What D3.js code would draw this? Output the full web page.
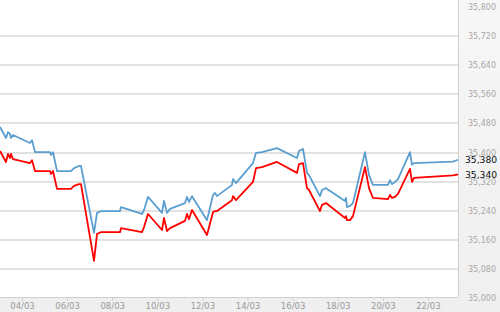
<!DOCTYPE html>
<html>
<head>
<meta charset="utf-8">
<script src="https://cdn.jsdelivr.net/npm/d3@7/dist/d3.min.js"></script>
<style>
html,body{margin:0;padding:0;background:#fff;}
svg{display:block;}
</style>
</head>
<body>
<svg id="chart" width="500" height="312"></svg>
<script>
// day-of-month (March) as decimal
const days = [3.024,3.290,3.379,3.468,3.512,3.601,4.355,4.443,4.577,5.242,5.286,5.375,5.552,6.173,6.306,6.528,6.616,7.193,7.326,7.503,8.346,8.390,9.321,9.410,9.588,10.208,10.297,10.430,10.563,11.228,11.317,11.406,11.539,12.204,12.470,12.559,12.647,13.313,13.357,13.490,14.244,14.377,14.643,15.308,16.195,16.284,16.461,16.638,16.727,17.215,17.304,17.481,18.324,18.368,18.413,18.545,18.678,19.211,19.388,19.565,20.231,20.319,20.408,20.541,20.674,21.206,21.295,21.383,23.113,23.335];
const blueValues = [35470,35440,35456,35451,35440,35448,35426,35434,35401,35401,35393,35401,35349,35349,35357,35363,35363,35179,35234,35239,35239,35250,35231,35242,35278,35234,35267,35234,35245,35261,35278,35264,35280,35214,35283,35289,35280,35311,35327,35316,35371,35399,35401,35412,35385,35404,35410,35344,35338,35280,35297,35302,35267,35275,35250,35253,35261,35401,35338,35311,35311,35324,35313,35319,35327,35401,35366,35371,35375,35380];
const redValues = [35404,35374,35396,35385,35396,35382,35371,35379,35349,35349,35341,35349,35300,35300,35308,35313,35313,35102,35176,35181,35181,35192,35181,35195,35231,35187,35220,35184,35192,35212,35231,35217,35242,35173,35236,35239,35239,35269,35280,35269,35319,35357,35360,35374,35344,35368,35371,35302,35297,35239,35256,35261,35220,35225,35214,35214,35225,35360,35302,35275,35272,35283,35275,35278,35286,35355,35319,35330,35337,35340];
const yTicks = [35000,35080,35160,35240,35320,35400,35480,35560,35640,35720,35800];
const xTickDays = [4,6,8,10,12,14,16,18,20,22];
const lastLabels = ["35,380","35,340"];

const toDate = d => new Date(Date.UTC(2023,2,1) + (d-1)*864e5);

const svg = d3.select("#chart");
const plotW = 458, plotH = 297;

// backgrounds
const defs = svg.append("defs");
const gr = defs.append("linearGradient").attr("id","gbg").attr("x1",0).attr("x2",0).attr("y1",0).attr("y2",1);
gr.append("stop").attr("offset","0%").attr("stop-color","#f7f7f7");
gr.append("stop").attr("offset","100%").attr("stop-color","#efefef");
svg.append("rect").attr("width",500).attr("height",312).attr("fill","url(#gbg)");
svg.append("rect").attr("x",0).attr("y",0).attr("width",plotW).attr("height",plotH).attr("fill","#fff");

const x = d3.scaleUtc().domain([toDate(days[0]), toDate(days[days.length-1])]).range([0, plotW]);
const y = d3.scaleLinear().domain([35000,35800]).range([298,7]);

// grid
svg.append("g").selectAll("line").data(yTicks.filter(v => v>35000 && v<35800)).join("line")
  .attr("x1",0).attr("x2",plotW)
  .attr("y1",d=>Math.round(y(d))).attr("y2",d=>Math.round(y(d)))
  .attr("stroke","#d9d9d9").attr("stroke-width",1.5);

// borders
svg.append("line").attr("x1",plotW+0.5).attr("x2",plotW+0.5).attr("y1",0).attr("y2",plotH).attr("stroke","#cfcfcf");
svg.append("line").attr("x1",0).attr("x2",plotW).attr("y1",plotH+0.5).attr("y2",plotH+0.5).attr("stroke","#cfcfcf");

// x axis
const xAxis = d3.axisBottom(x).tickValues(xTickDays.map(toDate)).tickFormat(d3.utcFormat("%d/%m")).tickSize(4).tickPadding(0);
const gx = svg.append("g").attr("transform",`translate(0,${plotH})`).call(xAxis);
gx.select(".domain").remove();
gx.selectAll(".tick line").attr("stroke","#cfcfcf");
gx.selectAll(".tick text").attr("fill","#9a9a9a").attr("font-family","DejaVu Sans").attr("font-size","8.5px").attr("dy",null).attr("y",11.5);

// y axis on right
const yAxis = d3.axisRight(y).tickValues(yTicks).tickFormat(d3.format(",")).tickSize(0).tickPadding(0);
const gy = svg.append("g").attr("transform","translate(468,0)").call(yAxis);
gy.select(".domain").remove();
gy.selectAll(".tick text").attr("fill","#a8a8a8").attr("font-family","DejaVu Sans").attr("font-size","8px");

// lines
const data = days.map((d,i)=>({t:toDate(d), b:blueValues[i], r:redValues[i]}));
const lineB = d3.line().x(d=>x(d.t)).y(d=>y(d.b));
const lineR = d3.line().x(d=>x(d.t)).y(d=>y(d.r));
svg.append("path").datum(data).attr("d",lineR).attr("fill","none").attr("stroke","#ff0000").attr("stroke-width",1.8).attr("stroke-linejoin","round");
svg.append("path").datum(data).attr("d",lineB).attr("fill","none").attr("stroke","#5a9fd0").attr("stroke-width",1.8).attr("stroke-linejoin","round");

// last value labels
const lastVals = [blueValues[blueValues.length-1], redValues[redValues.length-1]];
svg.append("g").selectAll("text").data(lastVals).join("text")
  .attr("x",465).attr("y",d=>y(d)).attr("dy","0.35em")
  .attr("font-family","DejaVu Sans").attr("font-size","9.2px").attr("fill","#111")
  .text((d,i)=>lastLabels[i]);
</script>
</body>
</html>
